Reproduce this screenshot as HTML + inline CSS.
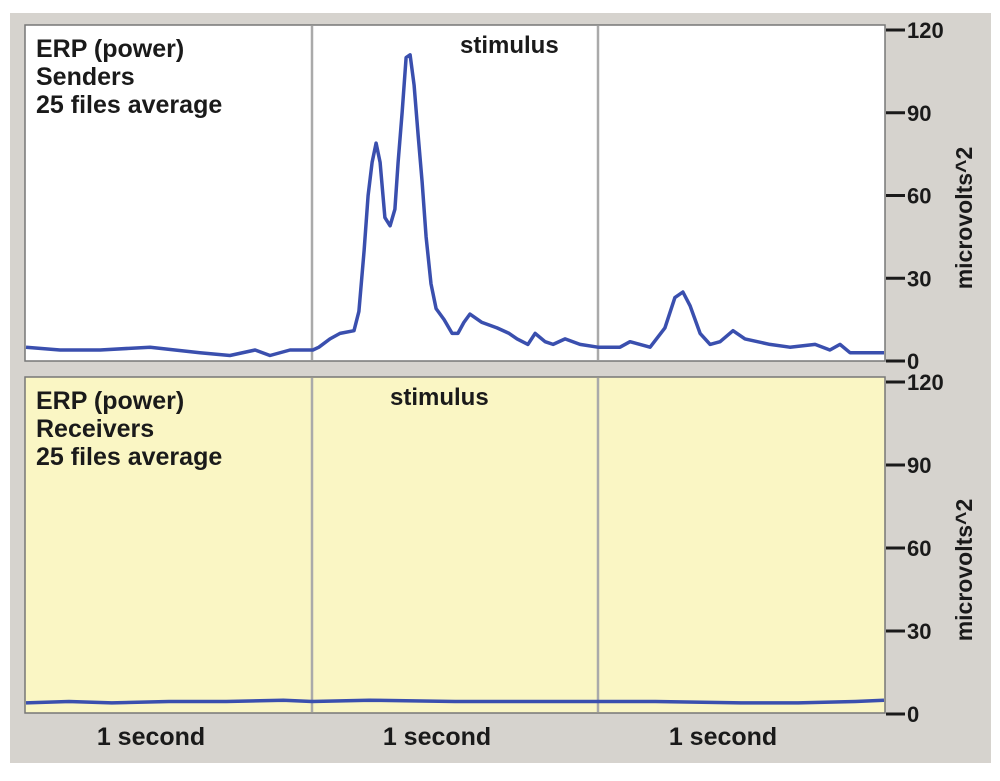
<!DOCTYPE html>
<html><head><meta charset="utf-8"><style>
body{margin:0;background:#fff;width:1000px;height:776px;overflow:hidden}
svg text{font-family:"Liberation Sans",Arial,sans-serif;font-weight:bold;fill:#1a1a1a}
</style></head><body>
<svg id="chart" width="1000" height="776">
<rect x="10" y="13" width="981" height="750" fill="#d6d3ce"/>
<g id="panels"></g>
</svg>
<script>
// Senders: time (ms) and power (microvolts^2)
const sendT=[0,119,259,434,608,713,801,853,923,1003,1024,1063,1098,1147,1164,1182,1196,1210,1224,1238,1255,1273,1290,1301,1315,1329,1343,1357,1371,1385,1399,1416,1434,1462,1490,1510,1531,1552,1594,1647,1689,1717,1755,1780,1815,1843,1885,1937,2000,2077,2112,2182,2234,2269,2297,2322,2357,2392,2427,2472,2514,2601,2671,2759,2811,2846,2881,3000];
const sendV=[5,4,4,5,3,2,4,2,4,4,5,8,10,11,18,40,60,72,79,72,52,49,55,72,90,110,111,100,82,65,45,28,19,15,10,10,14,17,14,12,10,8,6,10,7,6,8,6,5,5,7,5,12,23,25,20,10,6,7,11,8,6,5,6,4,6,3,3];
// Receivers
const recvT=[0,150,300,500,700,900,1000,1200,1500,1800,2000,2200,2500,2700,2900,3000];
const recvV=[4,4.5,4,4.5,4.5,5,4.5,5,4.5,4.5,4.5,4.5,4,4,4.5,5];
const yTicks=[0,30,60,90,120];
const xLabels=["1 second","1 second","1 second"];
const NS="http://www.w3.org/2000/svg";
const g=document.getElementById('panels');
function mk(tag,attrs,parent){const e=document.createElementNS(NS,tag);for(const k in attrs)e.setAttribute(k,attrs[k]);(parent||g).appendChild(e);return e;}
const x0=26,x1=884;
const xs=t=>x0+t/3000*(x1-x0);
const panels=[
 {top:26,bot:360,y0:361,y120:30,fill:"#ffffff",T:sendT,V:sendV,lines:["ERP (power)","Senders","25 files average"],stimX:460,stimY:53,name:"senders"},
 {top:378,bot:712,y0:714,y120:382,fill:"#faf6c4",T:recvT,V:recvV,lines:["ERP (power)","Receivers","25 files average"],stimX:390,stimY:405,name:"receivers"}
];
panels.forEach(p=>{
 const ys=v=>p.y0+(p.y120-p.y0)*v/120;
 let e=mk('rect',{x:x0-1,y:p.top-1,width:x1-x0+2,height:p.bot-p.top+2,fill:p.fill,stroke:"#777","stroke-width":1.5});
 
 
 [1000,2000].forEach(t=>{
  const l=mk('line',{x1:xs(t),x2:xs(t),y1:p.top,y2:p.bot,stroke:"#aaa","stroke-width":2.5});
  
  
 });
 const pts=p.T.map((t,i)=>xs(t).toFixed(1)+","+ys(p.V[i]).toFixed(1)).join(" ");
 const pl=mk('polyline',{points:pts,fill:"none",stroke:"#3a4fae","stroke-width":3.5,"stroke-linejoin":"round"});
 
 
 p.lines.forEach((s,i)=>{
  const t=mk('text',{x:36,y:p.top+31+i*28,"font-size":25});t.textContent=s;
  
  
 });
 const st=mk('text',{x:p.stimX,y:p.stimY,"font-size":24});st.textContent="stimulus";
 
 
 yTicks.forEach(v=>{
  const tl=mk('line',{x1:886,x2:905,y1:ys(v),y2:ys(v),stroke:"#1a1a1a","stroke-width":3});
  
  
  const tx=mk('text',{x:907,y:ys(v)+8,"font-size":22});tx.textContent=v;
  
  
 });
 const cy=(p.top+p.bot)/2+25;
 const at=mk('text',{x:972,y:cy,"font-size":23,"text-anchor":"middle",transform:`rotate(-90 972 ${cy})`});at.textContent="microvolts^2";
 
 
});
xLabels.forEach((s,i)=>{
 const t=mk('text',{x:xs(i*1000+500)-18,y:745,"font-size":25,"text-anchor":"middle"});t.textContent=s;
 
 
});
</script>
</body></html>
